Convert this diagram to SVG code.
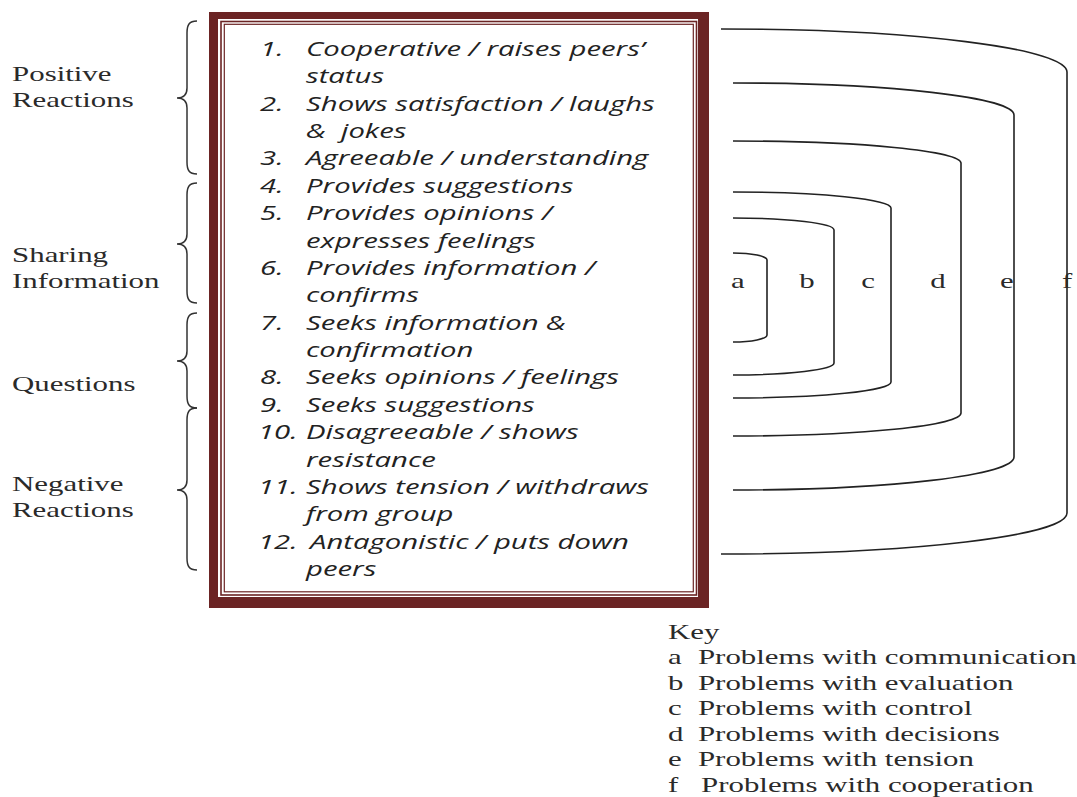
<svg xmlns="http://www.w3.org/2000/svg" width="1077" height="797" viewBox="0 0 1077 797">
<style>
.serif{font-family:"Liberation Serif","Times New Roman",serif;font-size:21px;fill:#2a2a2a}
.item{font-family:"Open Sans","Noto Sans",sans-serif;font-style:italic;font-size:20px;fill:#222}
.ln{fill:none;stroke:#222;stroke-width:1.6}
.br{fill:none;stroke:#333;stroke-width:1.5}
</style>
<rect width="1077" height="797" fill="#fff"/>
<g id="frame">
<rect x="209" y="12" width="500" height="596" fill="#6b2424"/>
<rect x="218" y="19" width="480" height="578" fill="#fff"/>
<rect x="221" y="21.5" width="475.5" height="573.5" fill="none" stroke="#6b2424" stroke-width="1.6"/>
<rect x="224.3" y="24.3" width="469" height="567.5" fill="none" stroke="#6b2424" stroke-width="1.2"/>
</g>
<g id="items" transform="scale(1.465 1)">
<text class="item" x="177.5" y="56">1.</text><text class="item" x="208.9" y="56">Cooperative / raises peers’</text>
<text class="item" x="208.9" y="83.4">status</text>
<text class="item" x="177.5" y="110.7">2.</text><text class="item" x="208.9" y="110.7">Shows satisfaction / laughs</text>
<text class="item" x="208.9" y="138.1" xml:space="preserve">&amp;  jokes</text>
<text class="item" x="177.5" y="165.5">3.</text><text class="item" x="208.9" y="165.5">Agreeable / understanding</text>
<text class="item" x="177.5" y="192.9">4.</text><text class="item" x="208.9" y="192.9">Provides suggestions</text>
<text class="item" x="177.5" y="220.2">5.</text><text class="item" x="208.9" y="220.2">Provides opinions /</text>
<text class="item" x="208.9" y="247.6">expresses feelings</text>
<text class="item" x="177.5" y="275">6.</text><text class="item" x="208.9" y="275">Provides information /</text>
<text class="item" x="208.9" y="302.3">confirms</text>
<text class="item" x="177.5" y="329.7">7.</text><text class="item" x="208.9" y="329.7">Seeks information &amp;</text>
<text class="item" x="208.9" y="357.1">confirmation</text>
<text class="item" x="177.5" y="384.5">8.</text><text class="item" x="208.9" y="384.5">Seeks opinions / feelings</text>
<text class="item" x="177.5" y="411.8">9.</text><text class="item" x="208.9" y="411.8">Seeks suggestions</text>
<text class="item" x="176.1" y="439.2">10.</text><text class="item" x="208.9" y="439.2">Disagreeable / shows</text>
<text class="item" x="208.9" y="466.6">resistance</text>
<text class="item" x="176.1" y="493.9">11.</text><text class="item" x="208.9" y="493.9">Shows tension / withdraws</text>
<text class="item" x="208.9" y="521.3">from group</text>
<text class="item" x="176.1" y="548.7">12.</text><text class="item" x="211.6" y="548.7">Antagonistic / puts down</text>
<text class="item" x="208.9" y="576">peers</text>
</g>
<g id="labels" transform="scale(1.47 1)">
<text class="serif" x="8.2" y="81">Positive</text>
<text class="serif" x="8.2" y="107">Reactions</text>
<text class="serif" x="8.2" y="262">Sharing</text>
<text class="serif" x="8.2" y="288">Information</text>
<text class="serif" x="8.2" y="391">Questions</text>
<text class="serif" x="8.2" y="491">Negative</text>
<text class="serif" x="8.2" y="517">Reactions</text>
</g>
<g id="braces">
<path class="br" d="M197,21 C189,21 187,25 187,33 L187,88 C187,95 183,98 177,98 C183,98 187,101 187,108 L187,162 C187,170 189,174 197,174"/>
<path class="br" d="M197,183 C189,183 187,187 187,195 L187,234 C187,241 183,244 177,244 C183,244 187,247 187,254 L187,291 C187,299 189,303 197,303"/>
<path class="br" d="M197,313 C189,313 187,317 187,325 L187,351 C187,358 183,361 177,361 C183,361 187,364 187,371 L187,396 C187,404 189,408 197,408"/>
<path class="br" d="M197,408 C189,408 187,412 187,420 L187,480 C187,487 183,490 177,490 C183,490 187,493 187,500 L187,558 C187,566 189,570 197,570"/>
</g>
<g id="connectors">
<path id="f-bracket" class="ln" d="M721,29 A346,43 0 0 1 1067,72 L1067,513 A346,41 0 0 1 721,554"/>
<path id="e-bracket" class="ln" d="M733,83 A281,32 0 0 1 1014,115 L1014,457 A281,33 0 0 1 733,490"/>
<path id="d-bracket" class="ln" d="M733,141 A228,22 0 0 1 961,163 L961,413 A228,23 0 0 1 733,436"/>
<path id="c-bracket" class="ln" d="M733,192 A158,16 0 0 1 891,208 L891,382 A158,16 0 0 1 733,398"/>
<path id="b-bracket" class="ln" d="M733,218 A101,12 0 0 1 834,230 L834,363 A101,12 0 0 1 733,375"/>
<path id="a-bracket" class="ln" d="M733,253 A34,7 0 0 1 767,260 L767,335 A34,7 0 0 1 733,342"/>
</g>
<g id="letters" transform="scale(1.47 1)" text-anchor="middle">
<text class="serif" x="502" y="288">a</text>
<text class="serif" x="549" y="288">b</text>
<text class="serif" x="590.5" y="288">c</text>
<text class="serif" x="638.1" y="288">d</text>
<text class="serif" x="685" y="288">e</text>
<text class="serif" x="725.9" y="288">f</text>
</g>
<g id="key" transform="scale(1.47 1)">
<text class="serif" x="454.4" y="639">Key</text>
<text class="serif" x="454.4" y="664">a</text><text class="serif" x="474.8" y="664">Problems with communication</text>
<text class="serif" x="454.4" y="690">b</text><text class="serif" x="474.8" y="690">Problems with evaluation</text>
<text class="serif" x="454.4" y="715">c</text><text class="serif" x="474.8" y="715">Problems with control</text>
<text class="serif" x="454.4" y="741">d</text><text class="serif" x="474.8" y="741">Problems with decisions</text>
<text class="serif" x="454.4" y="766">e</text><text class="serif" x="474.8" y="766">Problems with tension</text>
<text class="serif" x="454.4" y="792">f</text><text class="serif" x="476.9" y="792">Problems with cooperation</text>
</g>
</svg>
